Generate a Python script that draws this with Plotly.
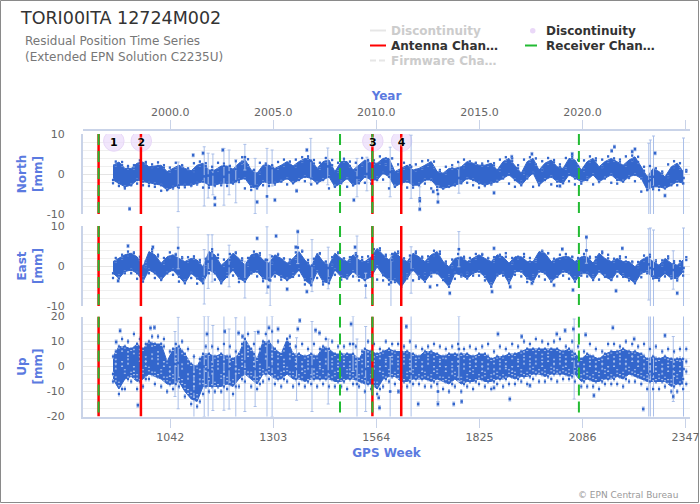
import plotly.graph_objects as go

weeks = [897,912,927,943,958,973,988,1003,1019,1034,1049,1064,1079,1095,1110,1125,1140,1155,1171,1186,1201,1216,1231,1247,1262,1277,1292,1307,1323,1338,1353,1368,1383,1399,1414,1429,1444,1459,1475,1490,1505,1520,1535,1551,1566,1581,1596,1611,1627,1642,1657,1672,1687,1703,1718,1733,1748,1763,1779,1794,1809,1824,1839,1855,1870,1885,1900,1915,1931,1946,1961,1976,1991,2007,2022,2037,2052,2067,2083,2098,2113,2128,2143,2159,2174,2189,2204,2219,2235,2250,2265,2280,2295,2311,2326,2341]
half_weeks = [904,920,935,950,965,980,996,1011,1026,1041,1056,1072,1087,1102,1117,1132,1148,1163,1178,1193,1208,1224,1239,1254,1269,1284,1300,1315,1330,1345,1360,1376,1391,1406,1421,1436,1452,1467,1482,1497,1512,1528,1543,1558,1573,1588,1604,1619,1634,1649,1664,1680,1695,1710,1725,1740,1756,1771,1786,1801,1816,1832,1847,1862,1877,1892,1908,1923,1938,1953,1968,1984,1999,2014,2029,2044,2060,2075,2090,2105,2120,2136,2151,2166,2181,2196,2212,2227,2242,2257,2272,2288,2303,2318,2333,2349]
north_hi = [2.2,3.0,1.4,1.4,2.7,3.0,1.8,2.0,2.2,0.6,1.4,2.2,1.4,0.8,2.2,2.7,1.0,1.0,2.0,2.0,1.2,2.7,3.7,1.0,0.2,2.2,2.2,1.4,2.2,3.1,
            2.0,3.1,3.9,3.5,1.4,3.1,3.5,0.6,3.1,3.1,1.0,2.2,3.5,2.7,2.7,3.9,3.9,0.6,1.4,2.2,1.0,1.4,2.2,3.1,0.6,0.2,1.4,1.4,1.8,3.1,2.7,2.2,2.2,
            2.7,1.0,3.1,3.9,2.2,0.2,3.1,3.9,1.0,2.7,3.5,1.8,1.4,3.9,3.5,1.0,3.1,3.9,1.8,3.1,3.9,3.1,2.2,3.5,4.3,1.8,-0.7,1.4,0.6,-0.7,1.8,2.7,0.6]
north_lo = [-1.5,-2.3,-3.2,-2.8,-1.5,-1.9,-2.3,-2.5,-2.8,-4.0,-3.3,-2.8,-2.8,-2.8,-2.3,-1.9,-2.8,-2.8,-2.3,-2.3,-2.3,-1.5,-1.1,-3.2,-3.6,-1.9,-2.3,-2.3,-1.9,-1.1,
            -2.3,-1.5,-0.7,-1.1,-2.3,-1.5,-0.7,-3.2,-2.3,-1.1,-2.8,-2.3,-0.7,-1.5,-1.5,0.2,-0.7,-3.2,-2.3,-1.9,-2.8,-2.8,-1.5,-1.5,-3.2,-3.6,-3.2,-2.8,-2.3,-1.1,-1.5,-2.3,-2.8,
            -2.3,-1.9,-1.1,-0.2,-1.5,-2.8,-1.1,0.2,-2.8,-1.5,-0.7,-1.9,-2.3,-0.2,-1.1,-1.9,-1.5,-0.2,-1.9,-1.1,-0.2,-1.5,-1.9,-0.7,-0.2,-1.1,-4.0,-3.2,-3.2,-3.6,-2.8,-1.9,-2.3]
north_f_hi = [3.1,2.2,2.0,2.2,3.4,2.6,2.4,2.9,1.6,1.6,2.8,2.0,1.3,2.7,3.1,2.0,1.8,2.8,2.6,2.0,3.2,4.2,2.2,1.0,2.8,2.6,2.0,3.0,3.6,3.0,
              3.6,4.2,4.4,2.6,2.8,4.0,2.2,2.8,3.8,2.0,2.8,4.0,3.2,3.4,4.4,2.4,1.4,2.4,2.8,1.8,2.4,3.2,3.4,1.6,1.0,1.8,2.2,3.0,3.6,3.2,2.8,2.6,3.2,
              2.2,3.6,4.2,3.2,1.4,3.6,4.2,2.4,3.2,4.0,3.0,2.4,4.0,4.4,2.0,3.4,4.4,3.4,3.6,4.4,3.4,3.6,4.4,4.6,3.0,0.8,2.0,1.4,0.2,2.4,3.2,1.4,1.0]
north_f_lo = [-2.3,-3.0,-3.6,-2.6,-2.4,-2.8,-3.0,-3.2,-4.2,-4.0,-3.6,-3.4,-3.3,-3.0,-2.6,-3.4,-3.4,-3.0,-2.8,-3.0,-2.4,-2.0,-3.6,-4.0,-3.0,-2.8,-3.0,-2.6,-1.8,-2.6,
              -2.2,-1.4,-1.8,-2.6,-2.2,-1.4,-3.6,-3.0,-2.0,-3.2,-2.8,-1.6,-2.2,-2.4,-1.0,-1.4,-3.6,-3.0,-2.6,-3.4,-3.4,-2.4,-2.4,-3.6,-4.0,-3.6,-3.2,-2.8,-2.0,-2.2,-2.8,-3.4,-3.0,
              -2.6,-1.8,-1.0,-2.4,-3.2,-2.0,-0.8,-3.2,-2.4,-1.4,-2.6,-3.0,-1.0,-1.8,-2.6,-2.4,-1.0,-2.6,-2.0,-1.0,-2.2,-2.4,-1.6,-1.0,-1.8,-4.4,-4.0,-3.8,-4.0,-3.4,-2.6,-2.8,-2.4]
east_hi = [1.1,1.9,2.8,3.2,2.3,-0.2,3.6,2.8,0.7,2.3,2.8,1.9,1.1,1.9,1.5,-0.2,3.6,2.8,0.2,1.5,3.2,1.9,0.2,2.8,3.2,1.5,0.7,2.8,1.9,0.7,
           1.9,3.6,1.5,-0.2,3.2,1.1,0.2,3.2,1.9,1.1,2.8,1.5,1.1,2.3,4.4,2.8,1.5,3.6,1.9,1.1,3.2,2.3,1.1,2.8,3.6,1.1,-0.2,1.9,2.3,1.1,1.9,2.8,1.9,
           1.1,2.8,2.3,0.7,2.3,2.3,1.1,1.1,3.6,3.2,1.1,1.9,2.3,2.3,1.1,2.3,2.3,0.7,3.2,1.9,1.1,1.9,1.1,1.1,-0.2,1.5,2.3,1.1,0.2,1.9,0.7,0.2,1.5]
east_lo = [-1.8,-3.1,-1.4,-1.0,-1.8,-3.9,-1.0,-1.8,-3.5,-1.8,-1.0,-2.7,-4.3,-1.8,-3.1,-4.3,-1.0,-1.8,-4.3,-2.7,-1.0,-3.1,-3.9,-1.8,-1.4,-3.1,-3.5,-1.8,-2.7,-3.5,
           -2.7,-1.0,-3.5,-4.8,-1.4,-3.9,-4.3,-1.0,-2.7,-3.1,-1.4,-2.7,-3.5,-2.7,-0.2,-2.3,-3.5,-3.5,-5.2,-3.1,-1.0,-2.7,-3.9,-1.8,-1.8,-3.5,-5.2,-1.8,-2.3,-3.1,-1.8,-1.4,-2.7,
           -5.2,-2.3,-1.8,-4.3,-1.4,-1.4,-3.1,-3.9,-1.4,-1.8,-3.9,-2.7,-1.4,-1.8,-3.9,-1.8,-1.8,-3.5,-1.4,-2.7,-3.5,-1.4,-2.7,-3.1,-4.3,-1.8,-1.4,-3.1,-3.1,-1.8,-3.1,-3.1,-1.4]
east_f_hi = [2.0,2.8,3.6,3.4,1.6,1.2,4.2,2.4,2.0,3.4,3.0,2.2,2.2,2.4,1.0,1.8,4.2,2.0,1.6,3.0,3.4,1.4,2.0,3.6,2.8,1.6,2.4,3.0,1.8,1.6,
             3.4,3.8,0.8,1.8,3.0,1.0,2.2,3.4,1.8,2.2,3.2,2.2,2.4,4.2,4.0,2.4,3.0,3.2,1.8,2.6,3.6,2.0,2.4,3.8,3.0,0.8,1.6,3.0,2.0,2.0,3.0,3.0,2.0,
             2.2,2.4,3.2,2.0,2.0,3.0,2.0,1.6,3.8,3.2,1.8,2.8,3.0,2.2,2.0,3.0,2.0,2.2,3.6,2.8,1.8,2.4,2.2,0.9,1.0,2.6,2.8,1.4,1.4,2.4,1.2,1.2,2.2]
east_f_lo = [-3.0,-2.4,-1.8,-1.8,-3.2,-3.0,-1.8,-3.0,-3.2,-1.8,-2.2,-3.9,-3.6,-3.0,-4.4,-3.2,-1.8,-3.4,-4.0,-2.0,-2.4,-4.0,-3.2,-1.8,-2.6,-3.8,-3.2,-2.6,-3.4,-3.2,
             -2.0,-2.4,-4.6,-3.2,-3.0,-4.6,-3.0,-2.2,-3.4,-2.4,-2.6,-3.6,-3.4,-1.6,-3.4,-3.6,-4.6,-4.0,-2.2,-2.2,-3.6,-3.2,-2.0,-2.6,-4.8,-3.4,-2.4,-3.2,-2.6,-1.8,-2.4,-2.4,-3.6,
             -4.4,-2.4,-2.4,-3.4,-2.2,-2.6,-4.0,-2.4,-2.6,-3.4,-3.6,-2.6,-2.4,-3.2,-3.0,-2.4,-2.6,-2.4,-3.4,-2.4,-3.4,-2.6,-2.2,-3.6,-4.0,-2.8,-1.8,-2.6,-3.6,-2.6,-2.6,-3.6,-2.4]
up_hi = [4,8,8,7,9,7,10,9,9,2,7,8,5,1,0,5,5,4,5,4,3,5,11,7,3,10,10,7,5,11,
         5,5,4,5,4,8,7,5,5,5,5,3,7,6,5,6,7,6,6,6,5,4,6,6,5,4,5,5,5,5,4,5,5,
         3,4,4,5,5,6,7,7,7,7,7,7,6,7,5,3,5,4,3,5,6,6,7,6,6,5,3,4,3,4,3,3,3]
up_lo = [-5,-9,-5,-4,-6,-5,-3,-4,-5,-7,-7,-6,-10,-13,-14,-8,-8,-8,-8,-7,-8,-5,-3,-5,-7,-3,-3,-5,-5,-3,
         -5,-5,-6,-5,-5,-5,-5,-6,-6,-5,-5,-6,-7,-7,-9,-5,-4,-4,-6,-6,-5,-5,-5,-6,-5,-6,-7,-5,-7,-6,-6,-5,-6,
         -6,-5,-5,-4,-5,-4,-4,-3,-3,-4,-3,-3,-3,-4,-3,-6,-5,-6,-6,-5,-5,-4,-5,-3,-4,-5,-6,-6,-6,-6,-8,-7,-7]
up_a = [2,7,5,6,6,3,9,5,8,-1,4,6,2,-3,-2,4,1,3,2,4,0,4,8,5,0,9,6,4,2,9,
        4,1,3,4,0,7,3,2,4,1,3,2,5,3,4,2,5,3,5,2,4,1,5,3,2,4,1,3,4,2,3,1,4,
        2,3,0,4,2,5,3,6,4,6,2,5,3,6,2,0,4,1,2,4,3,5,2,5,3,4,1,3,0,2,1,3,2]
up_b = [-3,-7,-2,-3,-4,-2,-1,-3,-2,-5,-4,-5,-8,-11,-12,-6,-5,-7,-4,-5,-6,-2,-1,-3,-5,-2,-1,-4,-3,-1,
        -3,-4,-2,-4,-3,-2,-4,-3,-5,-2,-4,-4,-5,-4,-7,-3,-2,-3,-4,-3,-2,-4,-3,-4,-2,-5,-5,-3,-5,-4,-2,-4,-3,
        -4,-3,-4,-2,-3,-2,-3,-1,-2,-2,-1,-2,-1,-2,-1,-4,-3,-4,-3,-2,-4,-2,-3,-1,-2,-3,-4,-5,-4,-5,-6,-4,-5]
up_c = [0,1,2,-1,3,1,4,2,1,-3,1,0,-4,-7,-6,-1,-2,0,-3,1,-2,1,5,1,-3,4,3,0,-1,4,
        1,-1,0,-2,1,2,0,-1,1,-2,0,-2,1,0,-1,1,2,0,2,-1,1,-1,2,-1,1,-1,-2,1,0,-1,1,-1,0,
        -2,0,1,-1,1,2,0,2,1,3,0,2,1,3,0,-2,1,-1,0,-1,1,2,0,3,1,0,-2,-1,-2,-1,-3,-1,-2]
up_d = [6,11,10,13,11,9,12,12,11,6,9,10,7,4,3,8,8,7,9,8,6,9,13,9,7,13,14,10,7,12,
        8,9,7,9,7,11,10,8,8,9,8,6,10,9,7,10,9,9,8,10,8,7,8,9,8,7,8,9,7,8,7,8,9,
        6,8,7,9,8,10,9,11,10,9,10,11,8,10,8,6,9,7,6,9,9,8,10,9,8,9,7,8,6,7,6,7,7]
up_e = [-6,-11,-9,-6,-9,-8,-5,-7,-8,-10,-9,-8,-12,-15,-16,-11,-10,-10,-10,-9,-11,-8,-6,-8,-9,-6,-5,-7,-8,-6,
        -8,-7,-8,-7,-8,-7,-8,-8,-8,-9,-7,-8,-10,-9,-11,-8,-6,-7,-8,-8,-7,-7,-8,-8,-7,-9,-10,-8,-10,-8,-9,-7,-8,
        -9,-7,-8,-7,-7,-6,-7,-5,-6,-6,-5,-6,-5,-5,-6,-8,-8,-8,-9,-7,-7,-7,-8,-6,-6,-7,-9,-9,-9,-8,-10,-10,-9]

north_bar_week = [1062,1128,1138,1150,1178,1191,1208,1231,1257,1287,1300,1398,1441,1515,1540,1599,1652,1674,1720,1773,2254,2258,2266,2342]
north_bar_val = [-3.2,-0.6,-0.4,-0.1,-0.7,0.4,-1.8,4.2,-3.0,-5.6,1.5,3.3,1.9,-0.9,0.0,0.5,1.8,-6.1,-5.0,-1.0,-1.8,-1.5,-0.7,-1.0]
north_bar_err = [6.2,7.4,5.6,5.1,7.1,5.6,5.4,3.2,6.9,12,4.5,5.6,4.6,4.8,4.2,6.2,7.9,2.9,2.0,3.8,9.5,10,10.2,10]
north_dot_week = [939,1100,1125,1175,1155,1155,1225,1262,1307,1388,1362,1507,1674,1674,1720,1708,2167,2160,2219,2212,2270,2295,1862,2029,2060,1958,1907]
north_dot_val = [-8.7,4.7,5.2,6.0,-6.0,-7.7,3.0,-7.0,-6.5,6.0,-4.2,-6.5,-6.7,-8.8,-7.0,-4.4,6.8,5.8,6.2,5.6,5.2,-5.4,-4.7,-3.0,5.0,5.0,4.3]

east_bar_week = [1062,1128,1138,1148,1191,1231,1287,1295,1365,1401,1442,1515,1537,1601,1652,1773,2096,2254,2258,2266,2316,2342]
east_bar_val = [4.5,-2.7,1.1,1.9,0.0,-3.4,1.5,-3.6,4.6,0.1,-0.5,2.4,-4.9,-4.1,-1.0,4.2,3.9,0.4,-0.5,-0.8,-1.0,-0.5]
east_bar_err = [5.2,6.8,6.7,5.9,5.2,4.6,8.3,6.4,4.0,6.5,5.2,5.1,3.1,6.9,5.8,4.4,3.2,8.9,10,9.8,4.8,10]
east_dot_week = [935,1262,1310,1290,998,910,1365,1388,1360,1510,1750,1700,1338,1857,1862,2062,2171,2326,2187,2035,1903,2014,1958,2096]
east_dot_val = [5.0,6.9,7.5,-5.2,4.7,-3.7,8.6,-6.4,4.7,4.7,-6.8,-5.2,-5.8,-6.4,4.4,-6.0,-6.2,-6.8,4.4,4.2,-5.2,-4.8,-4.3,7.2]

up_bar_week = [1054,1062,1102,1128,1138,1150,1178,1191,1208,1231,1257,1287,1300,1362,1401,1442,1515,1505,1537,1599,1652,1773,1720,2065,2254,2258,2266,2316,2342]
up_bar_val = [1,1.4,-10,0,-1.5,-0.6,1.5,-1,-1.5,2,-1,-1.5,0,-1,0,-2,-7,9,-1,-10,-3,7,-10,3,-3,-3,-3,-1,-1]
up_bar_err = [13,18.3,14,20,21.5,17,19,16,21,20,15,22,20,12.5,18,13,18,11,17,14,27,13,4,16,30,60,31,13,60]
up_dot_week = [915,905,960,992,1002,1135,1215,1265,1292,1315,1180,1225,1370,1365,1410,1420,1500,1570,1572,1640,1620,1670,1720,1760,1780,1902,2240,2163,1872,1932,2021,2042,2063,2094,2115,2295,2217,1862,1953,2316]
up_dot_val = [14.3,9.8,-15.5,15.4,15.6,13,13.4,13.7,15.5,15,14,12,18.4,15,14.5,13.4,17,-12.5,-16.5,16,-10,-15,-15,-15,-14,-13,-17,15.5,13,12,13,14.4,15,12.7,-11.6,12.4,11,-8.5,-7.6,-12]

antenna_weeks = [860.5, 967.7, 1554, 1627]
receiver_weeks = [860.5, 1472, 1554, 2077]
disc_weeks = [899, 968.6, 1555, 1628]
disc_labels = ["1", "2", "3", "4"]

x_tick_vals = [1042, 1303, 1564, 1825, 2086, 2347]
x_tick_text = ["1042", "1303", "1564", "1825", "2086", "2347"]
year_tick_text = ["2000.0", "2005.0", "2010.0", "2015.0", "2020.0", "2025.0"]

W, H = 700, 504
BLUE, PALE, AXIS, TITLE = "#3366cc", "#aabfe9", "#c9d3e8", "#5b7ae0"
GRID, MINOR = "#e4e4e4", "#efefef"
FONT = "DejaVu Sans"
XR = [821, 2358.4]

def dom(top, bot):
    return [1 - bot / H, 1 - top / H]

panels = [
    ("", "y", north_hi, north_lo, north_bar_week, north_bar_val, north_bar_err, north_dot_week, north_dot_val, 10,
     [(north_f_hi, 0.2), (north_f_lo, 0.2), (north_hi, 0.2), (north_lo, 0.2)]),
    ("2", "y2", east_hi, east_lo, east_bar_week, east_bar_val, east_bar_err, east_dot_week, east_dot_val, 10,
     [(east_f_hi, 0.2), (east_f_lo, 0.2), (east_hi, 0.2), (east_lo, 0.2)]),
    ("3", "y3", up_hi, up_lo, up_bar_week, up_bar_val, up_bar_err, up_dot_week, up_dot_val, 20,
     [(up_d, 0.8), (up_e, 0.8), (up_a, 0.9), (up_b, 0.7), (up_c, 1.0), (up_hi, 0.6), (up_lo, 0.8)]),
]

fig = go.Figure()
fig.add_trace(go.Scatter(x=disc_weeks, y=[8.25] * 4, xaxis="x", yaxis="y", mode="markers", showlegend=False,
    marker=dict(size=20.5, color="rgba(232,214,250,0.6)", line=dict(color="#e8d8f8", width=1))))

for sx, ya, hi, lo, bw, bv, be, dw, dv, ym, fuzz in panels:
    xa = "x" + sx
    fig.add_trace(go.Scatter(x=weeks + weeks[::-1], y=hi + lo[::-1], xaxis=xa, yaxis=ya, mode="lines", fill="toself",
        fillcolor=BLUE, line=dict(color=BLUE, width=1), showlegend=False, cliponaxis=False))
    fig.add_trace(go.Scatter(x=bw, y=bv, xaxis=xa, yaxis=ya, mode="markers", showlegend=False, cliponaxis=False,
        marker=dict(size=2.6, color=BLUE, symbol="square"),
        error_y=dict(type="data", array=be, color=PALE, thickness=1, width=1.5)))
    fig.add_trace(go.Scatter(x=dw, y=dv, xaxis=xa, yaxis=ya, mode="markers", showlegend=False, cliponaxis=False,
        marker=dict(size=2.6, color=BLUE, symbol="square"),
        error_y=dict(type="constant", value=0.4 * ym / 10, color=PALE, thickness=1, width=1.5)))
    for k, (arr, er) in enumerate(fuzz):
        xs = half_weeks if k % 2 == 0 else weeks
        fig.add_trace(go.Scatter(x=xs, y=arr, xaxis=xa, yaxis=ya, mode="markers", showlegend=False, cliponaxis=False,
            marker=dict(size=2.2, color=BLUE, symbol="square"),
            error_y=dict(type="constant", value=er, color=PALE, thickness=1, width=1)))
    for wk in antenna_weeks:
        fig.add_trace(go.Scatter(x=[wk, wk], y=[ym, -ym], xaxis=xa, yaxis=ya, mode="lines", showlegend=False,
            line=dict(color="#ff0000", width=2.5)))
    for wk in receiver_weeks:
        fig.add_trace(go.Scatter(x=[wk, wk], y=[ym, -ym], xaxis=xa, yaxis=ya, mode="lines", showlegend=False,
            line=dict(color="#22bb33", width=2, dash="11px,6px")))

fig.add_trace(go.Scatter(x=disc_weeks, y=[7.8] * 4, xaxis="x", yaxis="y", mode="text", text=disc_labels, showlegend=False,
    textposition="middle center",
    textfont=dict(family=FONT, size=11, color="#000", weight="bold", shadow="0 0 2px #fff, 0 0 2px #fff")))
fig.add_trace(go.Scatter(x=[None], y=[None], xaxis="x4", yaxis="y", mode="markers", showlegend=False))

xcommon = dict(range=XR, domain=[83 / W, 690 / W], showgrid=False, zeroline=False, automargin=False)
tickfont = dict(family=FONT, size=11, color="#666")
axtitle = dict(family=FONT, size=12, color=TITLE, weight="bold")
def yaxis(top, bot, ym, title, minor):
    vals = [ym, 0, -ym] if ym == 10 else [20, 10, 0, -10, -20]
    return dict(domain=dom(top, bot), range=[-ym, ym], tickvals=vals, ticktext=[str(v) for v in vals],
        tickfont=tickfont, ticks="", ticklabelstandoff=14, showline=True, linecolor=AXIS, linewidth=2, zeroline=False,
        showgrid=True, gridcolor=GRID, gridwidth=1, automargin=False,
        minor=dict(dtick=minor, tick0=-ym, showgrid=True, gridcolor=MINOR, gridwidth=1, ticks=""),
        title=dict(text=title, font=axtitle, standoff=2))

shapes = [dict(type="rect", xref="paper", yref="paper", x0=0.5 / W, x1=698.5 / W, y0=1 - 502.5 / H, y1=1 - 0.5 / H,
               line=dict(color="#8a8a8a", width=1), fillcolor="rgba(0,0,0,0)", layer="below")]
def hline(x0, x1, y, color, width, dash="solid"):
    shapes.append(dict(type="line", xref="paper", yref="paper", x0=x0 / W, x1=x1 / W, y0=1 - y / H, y1=1 - y / H,
                       line=dict(color=color, width=width, dash=dash)))
hline(370, 386, 30.5, "#e6e6e6", 2)
hline(370, 386, 45.5, "#ff0000", 2)
hline(370, 386, 60.5, "#e6e6e6", 2, "6px,3px")
hline(525, 537, 45.5, "#22bb33", 2)
shapes.append(dict(type="circle", xref="paper", yref="paper", x0=530 / W, x1=535.5 / W, y0=1 - 33.5 / H, y1=1 - 28 / H,
                   fillcolor="#ead8f8", line=dict(width=0)))

def note(x, y, text, size, color, bold=False, xanchor="left"):
    return dict(xref="paper", yref="paper", x=x / W, y=1 - y / H, text=text, showarrow=False, xanchor=xanchor, yanchor="middle",
                align="left", font=dict(family=FONT, size=size, color=color, weight="bold" if bold else "normal"))
annotations = [
    note(18, 18, "TORI00ITA 12724M002", 17.5, "#333"),
    note(23, 49.5, "Residual Position Time Series<br>(Extended EPN Solution C2235U)", 12, "#777"),
    note(389, 30.5, "Discontinuity", 12, "#cccccc", True),
    note(389, 45.5, "Antenna Chan…", 12, "#333", True),
    note(389, 60.5, "Firmware Cha…", 12, "#cccccc", True),
    note(544, 30.5, "Discontinuity", 12, "#333", True),
    note(544, 45.5, "Receiver Chan…", 12, "#333", True),
    note(680, 495, "© EPN Central Bureau", 9, "#999", xanchor="right"),
]

fig.update_layout(
    width=W, height=H, margin=dict(l=0, r=0, t=0, b=0), autosize=False, showlegend=False,
    paper_bgcolor="white", plot_bgcolor="white", font=dict(family=FONT),
    xaxis=dict(**xcommon, anchor="y", showticklabels=False, showline=False, ticks=""),
    xaxis2=dict(**xcommon, anchor="y2", showticklabels=False, showline=False, ticks=""),
    xaxis3=dict(**xcommon, anchor="y3", tickvals=x_tick_vals, ticktext=x_tick_text, tickfont=tickfont, ticks="outside",
                ticklen=9, tickcolor=AXIS, showline=True, linecolor=AXIS, linewidth=2,
                title=dict(text="GPS Week", font=axtitle, standoff=6)),
    xaxis4=dict(**xcommon, overlaying="x", anchor="free", position=1 - 130 / H, side="top", tickvals=x_tick_vals,
                ticktext=year_tick_text, tickfont=tickfont, ticks="outside", ticklen=9, tickcolor=AXIS, showline=True,
                linecolor=AXIS, linewidth=2, title=dict(text="Year", font=axtitle, standoff=1)),
    yaxis=yaxis(134, 214, 10, "North<br>[mm]", 2),
    yaxis2=yaxis(226, 306, 10, "East<br>[mm]", 2),
    yaxis3=yaxis(316.5, 416.5, 20, "Up<br>[mm]", 10 / 3),
    shapes=shapes, annotations=annotations,
)
fig.write_html("out.html", config={"displayModeBar": False},
               post_script="document.body.style.margin='0';document.documentElement.style.overflow='hidden';")
